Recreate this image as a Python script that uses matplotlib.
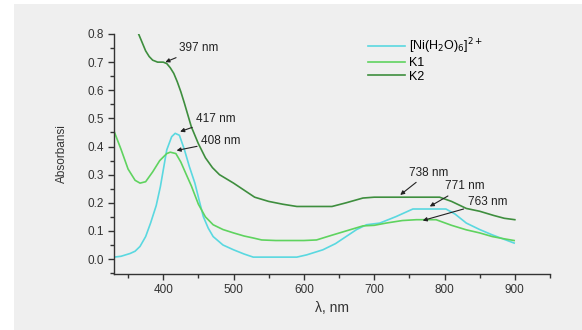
import matplotlib.pyplot as plt
from matplotlib.patches import Rectangle
from matplotlib.ticker import MultipleLocator

plt.rcParams['font.family'] = ['Liberation Sans', 'DejaVu Sans']

# K2 spectrum
k2_wl = [365, 370, 375, 380, 385, 392, 400, 405, 410, 415, 420, 425, 430, 440, 450,
         460, 470, 480, 490, 500, 515, 530, 550, 570, 590, 600, 640, 660, 684, 700,
         750, 793, 810, 831, 850, 870, 885, 900]
k2_abs = [0.80, 0.77, 0.74, 0.72, 0.707, 0.70, 0.70, 0.695, 0.68, 0.66, 0.63, 0.595,
          0.555, 0.47, 0.41, 0.36, 0.325, 0.30, 0.285, 0.27, 0.245, 0.22, 0.205,
          0.195, 0.187, 0.187, 0.187, 0.20, 0.217, 0.22, 0.22, 0.22, 0.205, 0.18,
          0.17, 0.155, 0.145, 0.14]

# K1 spectrum
k1_wl = [330, 340, 350, 360, 367, 375, 385, 395, 405, 410, 418, 425, 432, 440, 450,
         460, 471, 485, 500, 515, 528, 540, 560, 600, 618, 640, 660, 684, 700, 717,
         740, 760, 788, 810, 831, 850, 868, 885, 899]
k1_abs = [0.455, 0.39, 0.32, 0.28, 0.27, 0.275, 0.31, 0.35, 0.375, 0.38, 0.375, 0.345,
          0.305, 0.26, 0.195, 0.15, 0.122, 0.105, 0.093, 0.082, 0.075, 0.068, 0.066,
          0.066, 0.068, 0.085, 0.10, 0.118, 0.12, 0.128, 0.137, 0.14, 0.14, 0.12,
          0.104, 0.093, 0.08, 0.072, 0.066]

# [Ni(H2O)6]2+ spectrum
ni_wl = [330, 340, 353, 360, 367, 375, 382, 390, 396, 405, 412, 417, 423, 430, 437,
         445, 451, 457, 464, 471, 485, 500, 515, 528, 560, 590, 604, 627, 645, 660,
         675, 689, 708, 731, 755, 802, 815, 831, 850, 868, 885, 899]
ni_abs = [0.007, 0.01, 0.02, 0.028, 0.045, 0.08, 0.128, 0.19, 0.258, 0.388, 0.435,
          0.447, 0.44, 0.39, 0.33, 0.27, 0.21, 0.151, 0.11, 0.08, 0.05, 0.033, 0.018,
          0.007, 0.007, 0.007, 0.015, 0.033, 0.055, 0.08, 0.105, 0.122, 0.128, 0.151,
          0.178, 0.178, 0.16, 0.128, 0.105, 0.086, 0.07, 0.057]

# peak labels: text, arrow tip (x, y), text position (x, y)
peak_text = ['397 nm', '417 nm', '408 nm', '738 nm', '771 nm', '763 nm']
peak_tip = [(403, 0.70), (424, 0.453), (419, 0.386), (737, 0.228), (779, 0.187), (769, 0.137)]
peak_pos = [(422, 0.749), (447, 0.498), (454, 0.418), (749, 0.307), (800, 0.258), (833, 0.202)]

fig = plt.figure(figsize=(5.82, 3.30), dpi=100, facecolor='white')
fig.patches.append(Rectangle((14 / 582, 0), 1, 1 - 4 / 330, transform=fig.transFigure,
                             facecolor='#efefef', edgecolor='none', zorder=-1))
ax = fig.add_axes([114 / 582, 1 - 274 / 330, (550 - 114) / 582, (274 - 34) / 330])
ax.set_facecolor('#efefef')

ax.plot(ni_wl, ni_abs, color='#5ad8e0', lw=1.2, label='[Ni(H$_2$O)$_6$]$^{2+}$')
ax.plot(k1_wl, k1_abs, color='#5fd35f', lw=1.2, label='K1')
ax.plot(k2_wl, k2_abs, color='#3e8e3e', lw=1.2, label='K2')

for txt, tip, pos in zip(peak_text, peak_tip, peak_pos):
    ax.annotate(txt, xy=tip, xytext=pos, fontsize=8.5, color='#222222', va='center',
                arrowprops=dict(arrowstyle='-|>', color='#222222', lw=0.8,
                                mutation_scale=6, shrinkA=1, shrinkB=0))

ax.set_xlim(330, 950)
ax.set_ylim(-0.053, 0.8)
ax.xaxis.set_major_locator(MultipleLocator(100))
ax.xaxis.set_minor_locator(MultipleLocator(50))
ax.yaxis.set_major_locator(MultipleLocator(0.1))
ax.yaxis.set_minor_locator(MultipleLocator(0.05))
ax.set_xticks([400, 500, 600, 700, 800, 900])
for s in ['top', 'right']:
    ax.spines[s].set_visible(False)
for s in ['left', 'bottom']:
    ax.spines[s].set_color('#333333')
    ax.spines[s].set_linewidth(1.0)
ax.tick_params(which='major', length=4, width=1, color='#333333', labelsize=8.5,
               labelcolor='#333333')
ax.tick_params(which='minor', length=3, width=1, color='#333333')
ax.yaxis.set_major_formatter(plt.FormatStrFormatter('%.1f'))

ax.set_xlabel('λ, nm', fontsize=10, color='#333333', labelpad=3)
ax.set_ylabel('Absorbansi', fontsize=8.5, color='#333333', labelpad=14)

ax.legend(loc='upper left', bbox_to_anchor=(0.57, 1.01), frameon=False, fontsize=9,
          handlelength=3.0, handletextpad=0.3, labelspacing=0.1, borderaxespad=0)

fig.savefig('out.png', dpi=100)
